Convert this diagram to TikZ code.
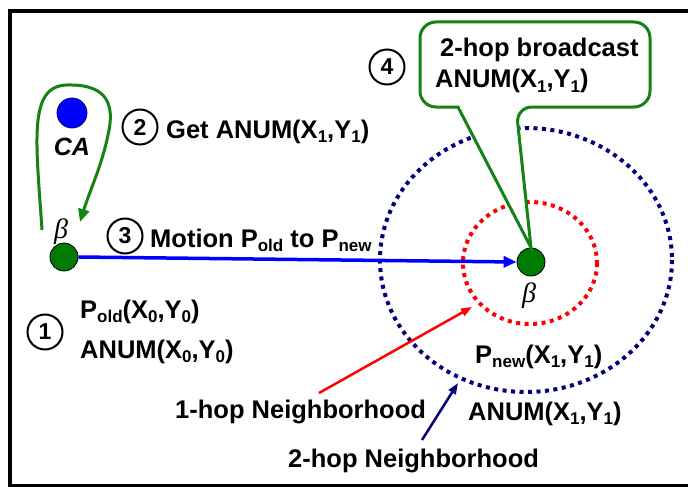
\documentclass[tikz,border=0pt]{standalone}
\usepackage{fontspec}
\setmainfont{Liberation Sans}
\newfontfamily\greekfont{Liberation Serif}
\usetikzlibrary{arrows.meta}
\definecolor{nodegreen}{RGB}{0,122,0}
\definecolor{loopgreen}{RGB}{20,130,20}
\definecolor{navyring}{RGB}{0,0,128}
\newcommand\lowr[1]{\raisebox{-4.5pt}{\fontsize{17}{17}\selectfont #1}}
\tikzset{
  lbl/.style={font=\bfseries\fontsize{25.5}{25.5}\selectfont, inner sep=0pt, anchor=base west},
  stepnum/.style={circle, draw=black, line width=2pt, minimum size=35pt, inner sep=0pt,
    font=\bfseries\fontsize{23}{23}\selectfont},
  mobile/.style={circle, draw=black, line width=0.8pt, fill=nodegreen, minimum size=28pt, inner sep=0pt},
  betalbl/.style={font=\greekfont\itshape\fontsize{28}{28}\selectfont, inner sep=0pt},
  tipbig/.style={-{Triangle[length=13pt,width=11pt]}},
  tipsmall/.style={-{Triangle[length=11pt,width=8pt]}},
}
\begin{document}
\begin{tikzpicture}[x=1pt,y=-1pt]
\useasboundingbox (0,0) rectangle (688,487);
\clip (0,0) rectangle (688,487);
\fill[white] (0,0) rectangle (688,487);
% outer frame
\draw[line width=4pt] (10,11) rectangle (720,486);

% neighbourhood rings
\draw[navyring, line width=4pt, dash pattern=on 4pt off 4.5pt] (526,260) ellipse [x radius=146, y radius=132];
\draw[red, line width=4pt, dash pattern=on 4pt off 4.5pt] (530,263) ellipse [x radius=67, y radius=61];

% nodes
\node[circle, draw=blue!50!black, line width=0.8pt, fill=blue, minimum size=30pt, inner sep=0pt] (ca) at (72,113) {};
\node[font=\bfseries\itshape\fontsize{25}{25}\selectfont, inner sep=0pt] (calbl) at (72,147) {CA};
\node[mobile] (old) at (64,257) {};
\node[mobile] (new) at (531,262) {};
\node[betalbl] (b1) at (61,232) {β};
\node[betalbl] (b2) at (529,296) {β};

% loop from the mobile node to CA and back
\coordinate (loopstart) at (42,230);
\coordinate (loopend) at (80,222);
\draw[loopgreen, line width=3pt, tipbig] (loopstart) .. controls (36,140) and (28,86) .. (67,85)
  .. controls (108,84) and (115,105) .. (108,135) .. controls (102,165) and (90,190) .. (loopend);

% motion arrow
\draw[blue, line width=3.5pt, tipbig] (old.east) -- (new.west);

% step markers
\node[stepnum] (s1) at (45,332) {1};
\node[stepnum] (s2) at (140,127) {2};
\node[stepnum] (s3) at (125,236) {3};
\node[stepnum] (s4) at (387,67) {4};

% labels
\node[lbl] (getlbl) at (166,138) {Get ANUM(X\lowr{1},Y\lowr{1})};
\node[lbl] (motlbl) at (150,247) {Motion P\lowr{old} to P\lowr{new}};
\node[lbl] (poldlbl) at (80,318) {P\lowr{old}(X\lowr{0},Y\lowr{0})};
\node[lbl] (anum0) at (80,358) {ANUM(X\lowr{0},Y\lowr{0})};
\node[lbl] (pnewlbl) at (475,363) {P\lowr{new}(X\lowr{1},Y\lowr{1})};
\node[lbl] (anum1) at (468,420) {ANUM(X\lowr{1},Y\lowr{1})};
\node[lbl] (hop1) at (175,418) {1-hop Neighborhood};
\node[lbl] (hop2) at (288,467) {2-hop Neighborhood};

% pointers to the rings
\coordinate (hop1tail) at (319,393);
\coordinate (hop1head) at (472,307);
\coordinate (hop2tail) at (422,440);
\coordinate (hop2head) at (458,383);
\draw[red, line width=2.5pt, tipsmall] (hop1tail) -- (hop1head);
\draw[navyring, line width=2.5pt, tipsmall] (hop2tail) -- (hop2head);

% broadcast callout
\draw[loopgreen, line width=3pt, fill=white, rounded corners=16pt]
  (458,107) -- (420,107) -- (420,22) -- (650,22) -- (650,107) -- (516,107) [sharp corners] -- (new.north) -- cycle;
\draw[white, line width=4pt] (459.5,107) -- (514.5,107);
\node[lbl] (bclbl) at (440,57) {2-hop broadcast};
\node[lbl] (bcanum) at (435,88) {ANUM(X\lowr{1},Y\lowr{1})};
\end{tikzpicture}
\end{document}
